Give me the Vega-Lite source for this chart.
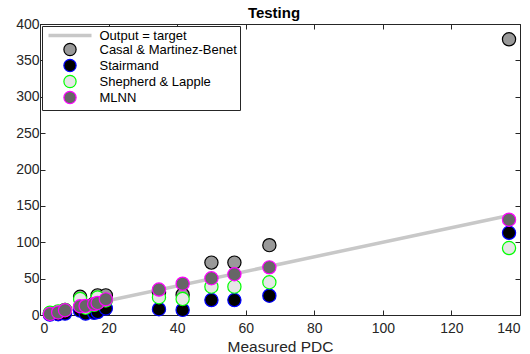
{
  "$schema": "https://vega.github.io/schema/vega-lite/v6.json",
  "width": 480,
  "height": 291,
  "autosize": {"type": "none"},
  "padding": {"left": 40, "top": 24, "right": 10, "bottom": 39},
  "background": "white",
  "title": {"text": "Testing", "fontSize": 15, "fontWeight": "bold", "font": "Liberation Sans", "color": "#000000", "offset": -4, "anchor": "middle", "dx": -6},
  "config": {
    "view": {"stroke": "#262626", "strokeWidth": 1},
    "font": "Liberation Sans",
    "axis": {"grid": false, "domainColor": "#262626", "tickColor": "#262626", "labelColor": "#262626", "titleColor": "#262626", "labelFont": "Liberation Sans", "titleFont": "Liberation Sans", "labelFontSize": 14, "titleFontSize": 15.5, "titleFontWeight": "normal", "tickSize": -5}
  },
  "datasets": {
    "points": [
      {"target": 2.9, "output": 2, "series": "Casal & Martinez-Benet"},
      {"target": 5.3, "output": 4, "series": "Casal & Martinez-Benet"},
      {"target": 7.3, "output": 7, "series": "Casal & Martinez-Benet"},
      {"target": 11.7, "output": 25, "series": "Casal & Martinez-Benet"},
      {"target": 13.3, "output": 12, "series": "Casal & Martinez-Benet"},
      {"target": 15.8, "output": 16, "series": "Casal & Martinez-Benet"},
      {"target": 16.8, "output": 27, "series": "Casal & Martinez-Benet"},
      {"target": 19.2, "output": 27, "series": "Casal & Martinez-Benet"},
      {"target": 34.7, "output": 31, "series": "Casal & Martinez-Benet"},
      {"target": 41.6, "output": 28, "series": "Casal & Martinez-Benet"},
      {"target": 50, "output": 72, "series": "Casal & Martinez-Benet"},
      {"target": 56.7, "output": 72, "series": "Casal & Martinez-Benet"},
      {"target": 66.9, "output": 96, "series": "Casal & Martinez-Benet"},
      {"target": 136.8, "output": 379, "series": "Casal & Martinez-Benet"},
      {"target": 2.9, "output": 0.5, "series": "Stairmand"},
      {"target": 5.3, "output": 1, "series": "Stairmand"},
      {"target": 7.3, "output": 2, "series": "Stairmand"},
      {"target": 11.7, "output": 6, "series": "Stairmand"},
      {"target": 13.3, "output": 2, "series": "Stairmand"},
      {"target": 15.8, "output": 3, "series": "Stairmand"},
      {"target": 16.8, "output": 4, "series": "Stairmand"},
      {"target": 19.2, "output": 9, "series": "Stairmand"},
      {"target": 34.7, "output": 8, "series": "Stairmand"},
      {"target": 41.6, "output": 7, "series": "Stairmand"},
      {"target": 50, "output": 20.5, "series": "Stairmand"},
      {"target": 56.7, "output": 20.5, "series": "Stairmand"},
      {"target": 66.9, "output": 26.5, "series": "Stairmand"},
      {"target": 136.8, "output": 113, "series": "Stairmand"},
      {"target": 2.9, "output": 3, "series": "Shepherd & Lapple"},
      {"target": 5.3, "output": 5, "series": "Shepherd & Lapple"},
      {"target": 7.3, "output": 7, "series": "Shepherd & Lapple"},
      {"target": 11.7, "output": 22, "series": "Shepherd & Lapple"},
      {"target": 13.3, "output": 10, "series": "Shepherd & Lapple"},
      {"target": 15.8, "output": 14, "series": "Shepherd & Lapple"},
      {"target": 16.8, "output": 24, "series": "Shepherd & Lapple"},
      {"target": 19.2, "output": 20, "series": "Shepherd & Lapple"},
      {"target": 34.7, "output": 24.5, "series": "Shepherd & Lapple"},
      {"target": 41.6, "output": 22, "series": "Shepherd & Lapple"},
      {"target": 50, "output": 39, "series": "Shepherd & Lapple"},
      {"target": 56.7, "output": 39, "series": "Shepherd & Lapple"},
      {"target": 66.9, "output": 45, "series": "Shepherd & Lapple"},
      {"target": 136.8, "output": 92, "series": "Shepherd & Lapple"},
      {"target": 2.9, "output": 1.5, "series": "MLNN"},
      {"target": 5.3, "output": 3.5, "series": "MLNN"},
      {"target": 7.3, "output": 6.5, "series": "MLNN"},
      {"target": 11.7, "output": 12, "series": "MLNN"},
      {"target": 13.3, "output": 12.5, "series": "MLNN"},
      {"target": 15.8, "output": 15, "series": "MLNN"},
      {"target": 16.8, "output": 16.5, "series": "MLNN"},
      {"target": 19.2, "output": 21.5, "series": "MLNN"},
      {"target": 34.7, "output": 35, "series": "MLNN"},
      {"target": 41.6, "output": 43, "series": "MLNN"},
      {"target": 50, "output": 50.5, "series": "MLNN"},
      {"target": 56.7, "output": 56, "series": "MLNN"},
      {"target": 66.9, "output": 65.5, "series": "MLNN"},
      {"target": 136.8, "output": 131, "series": "MLNN"}
    ],
    "fit": [
      {"target": 2.5, "output": 2.5},
      {"target": 136.8, "output": 136.8}
    ]
  },
  "resolve": {"axis": {"x": "independent", "y": "independent"}},
  "layer": [
    {
      "data": {"name": "fit"},
      "mark": {"type": "line", "stroke": "#c8c8c8", "strokeWidth": 3.5},
      "encoding": {
        "x": {"field": "target", "type": "quantitative", "scale": {"domain": [0, 140], "nice": false, "zero": false},
              "axis": {"orient": "top", "labels": false, "title": null, "domain": false, "values": [0, 20, 40, 60, 80, 100, 120, 140]}},
        "y": {"field": "output", "type": "quantitative", "scale": {"domain": [0, 400], "nice": false, "zero": false},
              "axis": {"orient": "right", "labels": false, "title": null, "domain": false, "values": [0, 50, 100, 150, 200, 250, 300, 350, 400]}}
      }
    },
    {
      "data": {"name": "points"},
      "mark": {"type": "point", "filled": true, "opacity": 1, "size": 175, "strokeWidth": 1.2, "shape": "circle"},
      "encoding": {
        "x": {"field": "target", "type": "quantitative", "scale": {"domain": [0, 140], "nice": false, "zero": false},
              "axis": {"orient": "bottom", "title": "Measured PDC", "values": [0, 20, 40, 60, 80, 100, 120, 140], "labelPadding": 11, "titlePadding": 4}},
        "y": {"field": "output", "type": "quantitative", "scale": {"domain": [0, 400], "nice": false, "zero": false},
              "axis": {"orient": "left", "title": null, "values": [0, 50, 100, 150, 200, 250, 300, 350, 400], "labelPadding": 6}},
        "fill": {"field": "series", "type": "nominal",
                 "scale": {"domain": ["Output = target", "Casal & Martinez-Benet", "Stairmand", "Shepherd & Lapple", "MLNN"],
                           "range": ["#c8c8c8", "#999999", "#000000", "#e6e6e6", "#666666"]},
                 "legend": {"title": null, "orient": "top-left", "offset": 2, "padding": 3, "strokeColor": "#262626", "fillColor": "white",
                            "labelFont": "Liberation Sans", "labelFontSize": 13, "labelColor": "#000000", "symbolSize": 100, "symbolOffset": 18.5, "labelOffset": 23, "rowPadding": -8, "symbolOpacity": 1,
                            "encode": {"symbols": {"update": {
                              "strokeWidth": {"signal": "datum.value === 'Output = target' ? 3.5 : 1.2"},
                              "size": {"signal": "datum.value === 'Output = target' ? 1850 : 150"}
                            }}}}},
        "stroke": {"field": "series", "type": "nominal",
                   "scale": {"domain": ["Output = target", "Casal & Martinez-Benet", "Stairmand", "Shepherd & Lapple", "MLNN"],
                             "range": ["#c8c8c8", "#000000", "#0000ff", "#00ff00", "#ff00ff"]}},
        "shape": {"field": "series", "type": "nominal",
                  "scale": {"domain": ["Output = target", "Casal & Martinez-Benet", "Stairmand", "Shepherd & Lapple", "MLNN"],
                            "range": ["stroke", "circle", "circle", "circle", "circle"]}}
      }
    }
  ]
}
